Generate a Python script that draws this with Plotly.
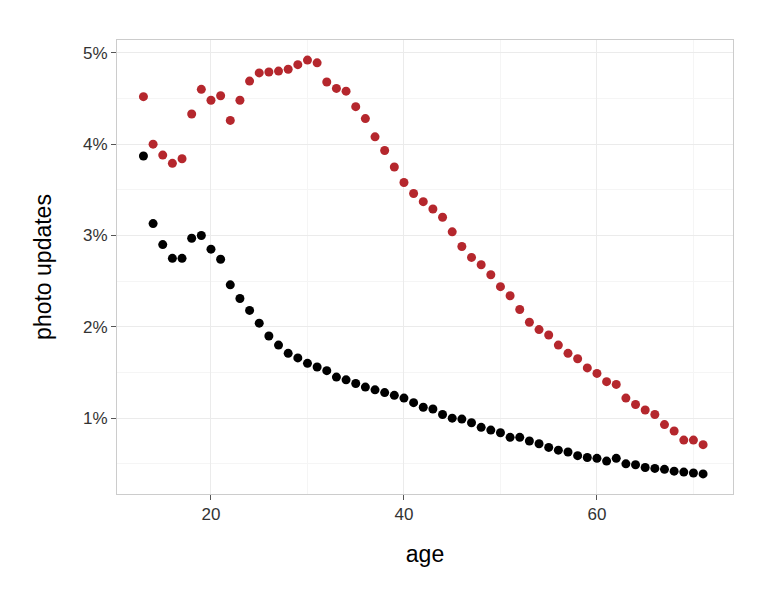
import plotly.graph_objects as go

age = list(range(13, 72))

# share of photo updates (%)
red_pct = [4.52, 4.00, 3.88, 3.79, 3.84, 4.33, 4.60, 4.48, 4.53, 4.26,
           4.48, 4.69, 4.78, 4.79, 4.80, 4.82, 4.87, 4.92, 4.89, 4.68,
           4.61, 4.58, 4.41, 4.28, 4.08, 3.93, 3.75, 3.58, 3.46, 3.37,
           3.29, 3.20, 3.04, 2.88, 2.76, 2.68, 2.57, 2.44, 2.34, 2.19,
           2.05, 1.97, 1.91, 1.80, 1.71, 1.65, 1.55, 1.49, 1.40, 1.37,
           1.22, 1.15, 1.09, 1.04, 0.93, 0.86, 0.76, 0.76, 0.71]
black_pct = [3.87, 3.13, 2.90, 2.75, 2.75, 2.97, 3.00, 2.85, 2.74, 2.46,
             2.31, 2.18, 2.04, 1.90, 1.80, 1.71, 1.66, 1.60, 1.56, 1.52,
             1.45, 1.42, 1.38, 1.34, 1.31, 1.28, 1.25, 1.22, 1.17, 1.12,
             1.10, 1.04, 1.00, 0.99, 0.95, 0.90, 0.87, 0.84, 0.79, 0.79,
             0.75, 0.72, 0.68, 0.65, 0.63, 0.59, 0.57, 0.56, 0.53, 0.56,
             0.50, 0.49, 0.46, 0.45, 0.44, 0.42, 0.41, 0.40, 0.39]

y_ticks = [1, 2, 3, 4, 5]
y_labels = ["1%", "2%", "3%", "4%", "5%"]

fig = go.Figure()
fig.add_trace(go.Scatter(x=age, y=red_pct, mode="markers",
                         marker=dict(color="#b5272d", size=9)))
fig.add_trace(go.Scatter(x=age, y=black_pct, mode="markers",
                         marker=dict(color="black", size=9)))

axis_common = dict(showgrid=True, gridcolor="#ebebeb", gridwidth=1,
                   showline=True, linecolor="#cccccc", mirror=True,
                   zeroline=False, ticks="outside", ticklen=5, tickcolor="#555",
                   tickfont=dict(size=17, color="#333", family="Liberation Sans"))

fig.update_xaxes(range=[10.26, 74.1], tickvals=[20, 40, 60],
                 minor=dict(dtick=10, tick0=0, showgrid=True, gridcolor="#f5f5f5"),
                 title=dict(text="age", font=dict(size=23, color="black", family="Liberation Sans"),
                            standoff=22),
                 **axis_common)
fig.update_yaxes(range=[0.17, 5.14], tickvals=y_ticks, ticktext=y_labels,
                 minor=dict(dtick=0.5, tick0=0.5, showgrid=True, gridcolor="#f5f5f5"),
                 title=dict(text="photo updates", font=dict(size=23, color="black", family="Liberation Sans"),
                            standoff=24),
                 **axis_common)

fig.update_layout(width=760, height=592, showlegend=False,
                  plot_bgcolor="white", paper_bgcolor="white",
                  margin=dict(l=109, r=35, t=32, b=106))

fig.write_html("out.html")
